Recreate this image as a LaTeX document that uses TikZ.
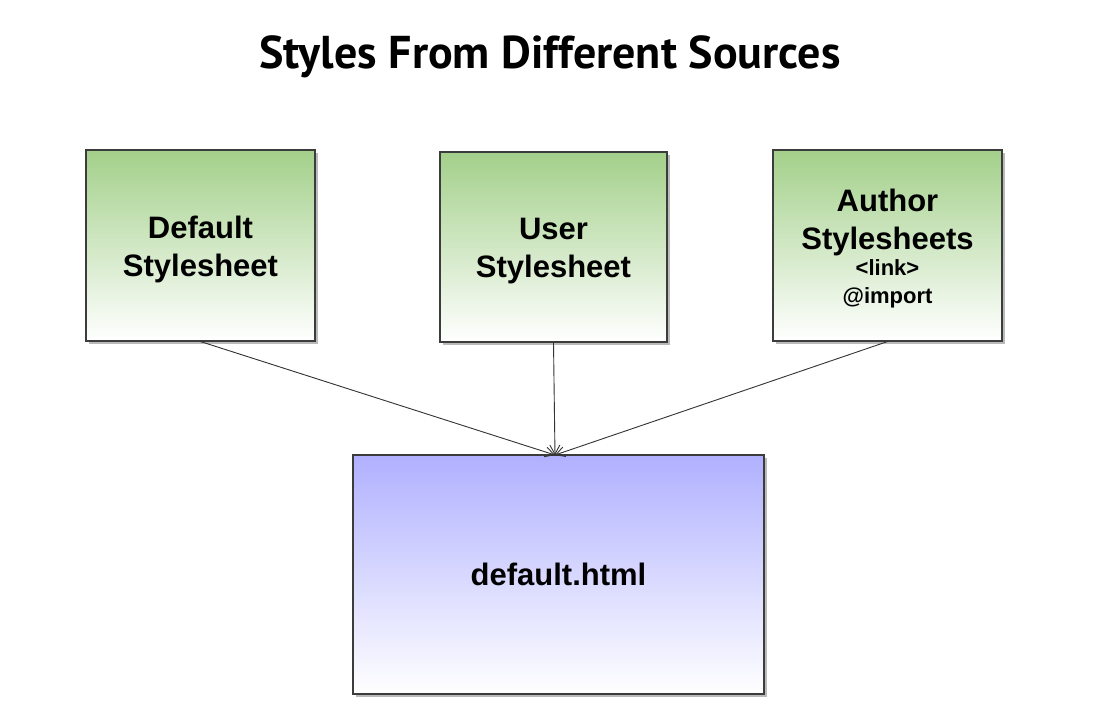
\documentclass[tikz,border=0pt]{standalone}
\usepackage{fontspec}
\setmainfont{Liberation Sans}
\newfontfamily\titlefont{PT Sans}
\usetikzlibrary{arrows.meta,shadows}
\definecolor{boxgreen}{RGB}{163,208,138}
\definecolor{boxblue}{RGB}{176,176,255}
\definecolor{edgegrey}{RGB}{60,60,60}
\tikzset{
  srcbox/.style={draw=edgegrey, line width=1.1pt, inner sep=0pt, align=center,
    top color=boxgreen, bottom color=white,
    drop shadow={shadow xshift=2.5pt, shadow yshift=-2.5pt, opacity=0.45, fill=black!60},
    font=\fontsize{31}{38}\selectfont\bfseries},
  htmlbox/.style={draw=edgegrey, line width=1.1pt, inner sep=0pt, align=center,
    top color=boxblue, bottom color=white,
    drop shadow={shadow xshift=2.5pt, shadow yshift=-2.5pt, opacity=0.45, fill=black!60},
    font=\fontsize{31}{38}\selectfont\bfseries},
  conn/.style={draw=black!80, line width=0.9pt, -{Straight Barb[length=9pt,width=10pt]}}
}
\begin{document}
\begin{tikzpicture}[x=1pt,y=-1pt]
\useasboundingbox[fill=white] (0,0) rectangle (1111,724);
\node[anchor=base, font=\titlefont\bfseries\fontsize{46}{52}\selectfont] (title) at (550,68) {Styles From Different Sources};
\node[srcbox, minimum width=229pt, minimum height=191pt] (def) at (200.5,245.5) {\rule{0pt}{30pt}Default\\Stylesheet};
\node[srcbox, minimum width=227pt, minimum height=190pt] (user) at (553.5,247) {\rule{0pt}{30pt}User\\Stylesheet};
\node[srcbox, minimum width=229pt, minimum height=191pt] (auth) at (887.5,245.5)
  {\rule{0pt}{28pt}Author\\Stylesheets\\[-12pt]{\fontsize{22}{27}\selectfont <link>}\\[-10pt]{\fontsize{22}{28}\selectfont @import}};
\node[htmlbox, minimum width=411pt, minimum height=239pt] (html) at (558.5,574.5) {default.html};
\coordinate (hit) at (555,455);
\draw[conn] (def.south) -- (hit);
\draw[conn] (user.south) -- (hit);
\draw[conn] (auth.south) -- (hit);
\end{tikzpicture}
\end{document}
